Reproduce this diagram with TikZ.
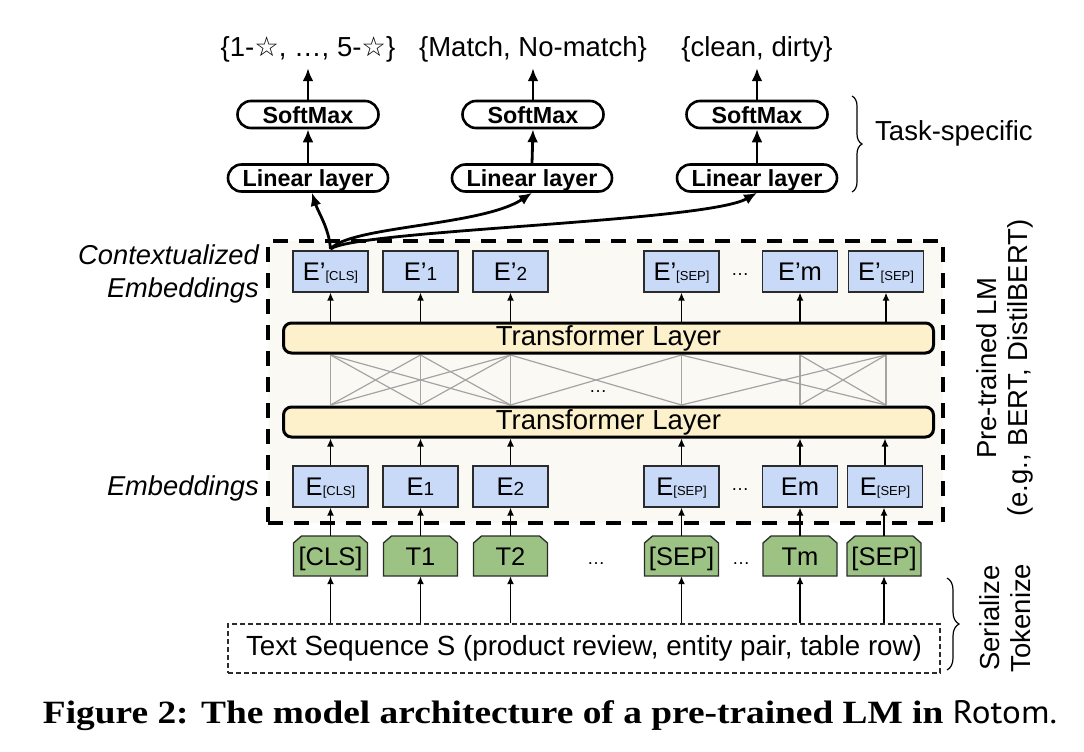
\documentclass[tikz,border=0pt]{standalone}
\usepackage{fontspec}
\setmainfont{Liberation Sans}
\newfontfamily\symf{DejaVu Sans}
\newfontfamily\capserif{Liberation Serif}[FakeStretch=1.15]
\newfontfamily\capsans{PT Sans}[FakeStretch=1.08]
\usetikzlibrary{arrows.meta,decorations.pathreplacing,shapes.misc}
\definecolor{eblue}{HTML}{C9DAF8}
\definecolor{tgreen}{HTML}{9CC383}
\definecolor{tyellow}{HTML}{FDF1CC}
\definecolor{lmbg}{HTML}{FBF9F4}
\definecolor{xgray}{HTML}{A4A4A4}
\definecolor{edgec}{HTML}{2B2B2B}
\newcommand\esml{\fontsize{13}{13}\selectfont}
\newcommand\emid{\fontsize{19}{19}\selectfont}
\newcommand\tokshape[1]{\filldraw[tokline] (#1-37,576) -- (#1-37,543) -- (#1-29,536) -- (#1+29,536) -- (#1+37,543) -- (#1+37,576) -- cycle;}
\tikzset{
  embox/.style={draw=edgec, line width=1.3pt, fill=eblue, minimum width=75pt, minimum height=41pt, inner sep=0pt, text height=18pt, text depth=0pt, font=\fontsize{25.5}{25.5}\selectfont},
  tlayer/.style={draw=black, line width=3pt, fill=tyellow, rounded corners=8pt, minimum width=650pt, minimum height=30pt, inner sep=0pt, text height=19pt, text depth=5pt, font=\fontsize{27.5}{27.5}\selectfont},
  pill/.style={rounded rectangle, draw=black, line width=2.6pt, fill=white, minimum height=27pt, inner sep=0pt, text height=17pt, text depth=0pt, font=\bfseries\fontsize{23.3}{23.3}\selectfont},
  outlbl/.style={font=\fontsize{27.5}{27.5}\selectfont, text height=19pt, text depth=5pt, inner xsep=2pt, inner ysep=6pt},
  tokline/.style={draw=edgec, line width=1.3pt, fill=tgreen},
  tokt/.style={minimum width=74pt, minimum height=40pt, inner sep=0pt, text height=18pt, text depth=0pt, font=\fontsize{25.5}{25.5}\selectfont},
  thickarr/.style={line width=2.8pt, -{Latex[length=13pt,width=11pt]}},
  thinarr/.style={line width=1.4pt, -{Latex[length=8pt,width=7pt]}},
  gline/.style={draw=xgray, line width=1.2pt},
  dots/.style={font=\fontsize{18}{18}\selectfont, anchor=base, inner sep=0pt},
  lbl/.style={font=\itshape\fontsize{27.3}{33}\selectfont, align=right, anchor=east, inner sep=0pt},
  side/.style={font=\fontsize{27.5}{31}\selectfont, align=center, rotate=90, inner sep=0pt},
  brc/.style={decorate, line width=1.2pt},
}
\begin{document}
\begin{tikzpicture}[x=1pt,y=-1pt]
\useasboundingbox[fill=white] (0,0) rectangle (1084,752);

% pre-trained LM dashed container
\node[draw=black, line width=3.5pt, dash pattern=on 15pt off 11pt, fill=lmbg, minimum width=675pt, minimum height=282pt, inner sep=0pt] (lm) at (605.5,382) {};

% attention cross lines
\foreach \i/\x in {1/330.5,2/420.5,3/510.5,4/681.5,5/800,6/886}{
  \coordinate (u\i) at (\x,355);
  \coordinate (l\i) at (\x,405);
}
\foreach \i in {1,...,6}{\draw[gline] (u\i) -- (l\i);}
\foreach \a/\b in {1/2,1/3,2/3,3/4,4/6,5/6}{
  \draw[gline] (u\a) -- (l\b);
  \draw[gline] (u\b) -- (l\a);
}
\node[dots] (mdots) at (598,392) {…};

% transformer layers
\node[tlayer] (tu) at (608.5,338) {Transformer Layer};
\node[tlayer] (tl) at (608.5,422) {Transformer Layer};

% contextualized embeddings
\node[embox] (ep1) at (330.5,271.5) {E’{\esml [CLS]}};
\node[embox] (ep2) at (420.5,271.5) {E’{\emid 1}};
\node[embox] (ep3) at (510.5,271.5) {E’{\emid 2}};
\node[embox] (ep4) at (681.5,271.5) {E’{\esml [SEP]}};
\node[embox] (ep5) at (800,271.5) {E’m};
\node[embox] (ep6) at (886,271.5) {E’{\esml [SEP]}};
\node[dots] (tdots) at (740,275) {…};

% embeddings
\node[embox] (e1) at (330.5,486.5) {E{\esml [CLS]}};
\node[embox] (e2) at (420.5,486.5) {E{\emid 1}};
\node[embox] (e3) at (510.5,486.5) {E{\emid 2}};
\node[embox] (e4) at (681.5,486.5) {E{\esml [SEP]}};
\node[embox] (e5) at (800,486.5) {Em};
\node[embox] (e6) at (885,486.5) {E{\esml [SEP]}};
\node[dots] (bdots) at (740,490) {…};

% arrows inside LM
\foreach \i in {1,...,6}{
  \draw[thinarr] (ep\i.south |- tu.north) -- (ep\i.south);
  \draw[thinarr] (e\i.north) -- (e\i.north |- tl.south);
}

% tokens
\tokshape{330.5}\node[tokt] (t1) at (330.5,556) {[CLS]};
\tokshape{420.5}\node[tokt] (t2) at (420.5,556) {T1};
\tokshape{510.5}\node[tokt] (t3) at (510.5,556) {T2};
\tokshape{681.5}\node[tokt] (t4) at (681.5,556) {[SEP]};
\tokshape{800}\node[tokt] (t5) at (800,556) {Tm};
\tokshape{884}\node[tokt] (t6) at (884,556) {[SEP]};
\node[dots] (kdots1) at (596,564) {…};
\node[dots] (kdots2) at (741,564) {…};

% text sequence
\node[draw=edgec, line width=1.2pt, dash pattern=on 5pt off 3pt, minimum width=712pt, minimum height=49pt, inner sep=0pt, font=\fontsize{27.7}{27.7}\selectfont] (tb) at (584,648.5) {Text Sequence S (product review, entity pair, table row)};

\foreach \i in {1,...,6}{
  \draw[thinarr] (t\i.north) -- (t\i.north |- e\i.south);
  \draw[thinarr] (tb.north -| t\i) -- (t\i.south);
}

% task-specific heads
\node[pill, minimum width=160pt] (lin1) at (308,178) {Linear layer};
\node[pill, minimum width=160pt] (lin2) at (532,178) {Linear layer};
\node[pill, minimum width=160pt] (lin3) at (757,178) {Linear layer};
\node[pill, minimum width=141pt] (sm1) at (308,114.5) {SoftMax};
\node[pill, minimum width=141pt] (sm2) at (533,114.5) {SoftMax};
\node[pill, minimum width=141pt] (sm3) at (757,114.5) {SoftMax};
\node[outlbl] (o1) at (308,50) {\{1-{\symf ☆}, …, 5-{\symf ☆}\}};
\node[outlbl] (o2) at (533,50) {\{Match, No-match\}};
\node[outlbl] (o3) at (757,50) {\{clean, dirty\}};
\foreach \i in {1,2,3}{
  \draw[thickarr] (lin\i.north) -- (sm\i.south);
  \draw[thickarr] (sm\i.north) -- (o\i.south);
}

% CLS to heads
\coordinate (cls) at (330.5,249);
\draw[thickarr] (cls) .. controls (329,228) and (318,212) .. ([xshift=4pt]lin1.south);
\draw[thickarr] (cls) .. controls (350,226) and (482,226) .. (lin2.south);
\draw[thickarr] (cls) .. controls (356,230) and (706,222) .. (lin3.south);

% labels
\node[lbl] (lctx) at (259,274) {Contextualized\\Embeddings};
\node[lbl] (lemb) at (259,488) {Embeddings};

\coordinate (b1a) at (852,96);
\coordinate (b1b) at (852,192);
\draw[brc, decoration={brace, amplitude=10pt}] (b1a) -- (b1b);
\node[font=\fontsize{27.5}{27.5}\selectfont, anchor=west, inner sep=0pt] (ltask) at (875,133) {Task-specific};

\node[side] (lpre) at (1005,368) {Pre-trained LM\\(e.g., BERT, DistilBERT)};

\coordinate (b2a) at (947,578);
\coordinate (b2b) at (947,670);
\draw[brc, decoration={brace, amplitude=12pt}] (b2a) -- (b2b);
\node[side] (lser) at (1005,618) {Serialize\\Tokenize};

% caption
\node[inner sep=0pt, font=\capserif\fontsize{32.5}{32.5}\selectfont] (cap) at (550,716) {\textbf{Figure 2: The model architecture of a pre-trained LM in} {\capsans Rotom.}};
\end{tikzpicture}
\end{document}
